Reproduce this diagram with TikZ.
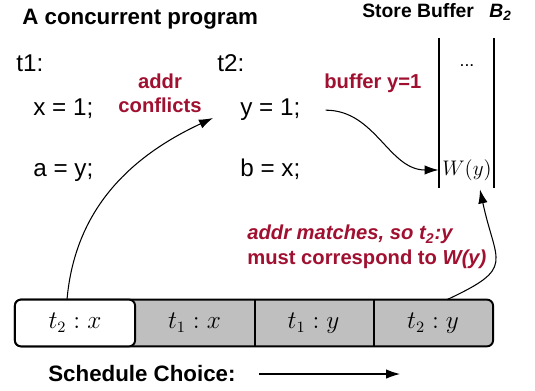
\documentclass[tikz,border=0pt]{standalone}
\usepackage{fontspec}
\setmainfont{Liberation Sans}
\usetikzlibrary{arrows.meta,backgrounds}
\definecolor{hl}{RGB}{160,16,48}
\definecolor{slot}{RGB}{191,191,191}

\begin{document}
\begin{tikzpicture}[x=0.02cm, y=-0.02cm, >={Latex[length=2.8mm, width=1.9mm]},
	every node/.style={font=\fontsize{13}{15}\selectfont, inner sep=0pt},
	code/.style={anchor=base west, font=\fontsize{13.8}{16}\selectfont},
	head/.style={anchor=base west, font=\fontsize{12.7}{15}\selectfont\bfseries},
	note/.style={anchor=base west, text=hl, font=\fontsize{11.5}{14}\selectfont\bfseries},
	cell/.style={minimum width=2.39cm, minimum height=0.92cm, font=\fontsize{13.5}{15}\selectfont},
	bar/.style={line width=1.1pt, rounded corners=0.12cm},
	arr/.style={->, line width=0.6pt}]
	\useasboundingbox (0,0) rectangle (535,391);
	\node[head] (title) at (22,25) {A concurrent program};
	\node[head, font=\fontsize{11}{13}\selectfont\bfseries] (sbuf) at (362,18) {Store Buffer};
	\node[head, font=\fontsize{11}{13}\selectfont\bfseries\itshape] (bname) at (489,18) {B\textsubscript{2}};
	% the two threads
	\node[code] (t1) at (16,72) {t1:};
	\node[code] (t2) at (217,72) {t2:};
	\node[code] (s11) at (33,116) {x = 1;};
	\node[code] (s12) at (33,177) {a = y;};
	\node[code] (s21) at (240,116) {y = 1;};
	\node[code] (s22) at (240,177) {b = x;};
	\node[note, anchor=base] (addr) at (160,89) {addr};
	\node[note, anchor=base] (confl) at (160,113) {conflicts};
	\node[note] (buf) at (324,89) {buffer y=1};
	% store buffer
	\draw[line width=1.1pt] (439,38) coordinate (sbl) -- (439,188);
	\draw[line width=1.1pt] (494,38) coordinate (sbr) -- (494,188);
	\node[font=\fontsize{10}{12}\selectfont] (dots) at (467,66) {...};
	\node[inner sep=2pt, font=\fontsize{12.6}{15}\selectfont] (wy) at (467,170) {$W(y)$};
	% schedule
	\node[cell] (c1) at (75,323) {$t_2 : x$};
	\node[cell] (c2) at (194.5,323) {$t_1 : x$};
	\node[cell] (c3) at (313.5,323) {$t_1 : y$};
	\node[cell] (c4) at (433,323) {$t_2 : y$};
	\begin{scope}[on background layer]
		\draw[bar, fill=slot] (c1.south west) rectangle (c4.north east);
		\draw[bar, fill=white] (c1.south west) rectangle (c1.north east);
		\foreach \c in {c2,c3} \draw[line width=1.1pt] (\c.north east) -- (\c.south east);
	\end{scope}
	\node[note, font=\fontsize{11.5}{14}\selectfont\bfseries\itshape] (match) at (247,240) {addr matches, so t\textsubscript{2}:y};
	\node[note] (must) at (247,265) {must correspond to \textit{W(y)}};
	\node[head] (sched) at (48,382) {Schedule Choice:};
	\coordinate (hit) at (213,118);
	\coordinate (schedend) at (400,378);
	% connectors
	\draw[arr] ([xshift=-0.16cm]c1.north) to[out=85, in=205] (hit);
	\draw[arr] ([xshift=0.5cm]s21.east) to[out=0, in=180] (wy.west);
	\draw[arr] ([xshift=0.28cm]c4.north) to[out=25, in=-78, looseness=1.7] ([xshift=0.26cm, yshift=-0.1cm]wy.south);
	\draw[arr] ([xshift=0.46cm]sched.east) -- (sched.east -| schedend);
\end{tikzpicture}
\end{document}
